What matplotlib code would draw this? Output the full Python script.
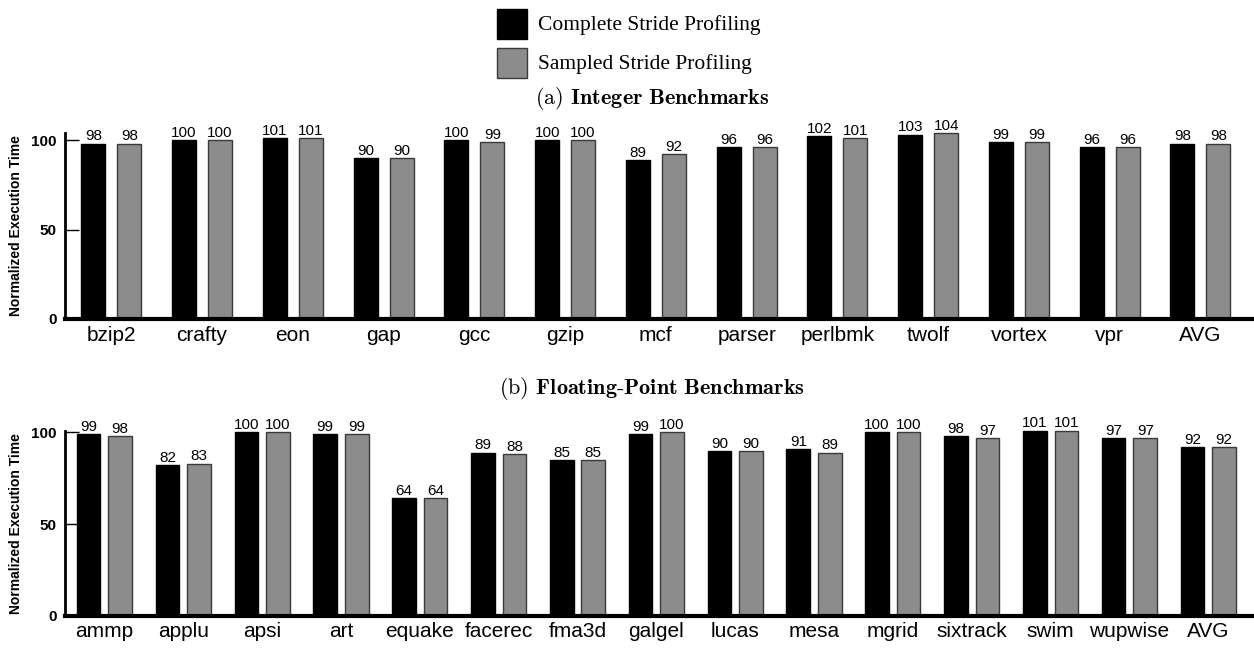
import numpy as np
import matplotlib
matplotlib.use('Agg')
import matplotlib.pyplot as plt
from matplotlib.patches import Rectangle

plt.rcParams['font.family'] = 'Liberation Sans'
plt.rcParams['mathtext.fontset'] = 'cm'

int_names = ['bzip2', 'crafty', 'eon', 'gap', 'gcc', 'gzip', 'mcf', 'parser',
             'perlbmk', 'twolf', 'vortex', 'vpr', 'AVG']
int_complete = [98, 100, 101, 90, 100, 100, 89, 96, 102, 103, 99, 96, 98]
int_sampled = [98, 100, 101, 90, 99, 100, 92, 96, 101, 104, 99, 96, 98]

fp_names = ['ammp', 'applu', 'apsi', 'art', 'equake', 'facerec', 'fma3d', 'galgel',
            'lucas', 'mesa', 'mgrid', 'sixtrack', 'swim', 'wupwise', 'AVG']
fp_complete = [99, 82, 100, 99, 64, 89, 85, 99, 90, 91, 100, 98, 101, 97, 92]
fp_sampled = [98, 83, 100, 99, 64, 88, 85, 100, 90, 89, 100, 97, 101, 97, 92]

series_labels = ['Complete Stride Profiling', 'Sampled Stride Profiling']
BLACK = '#000000'
GRAY = '#8c8c8c'

W, H = 1254, 650
fig = plt.figure(figsize=(W / 100, H / 100), dpi=100)


def px_axes(left, y0, y100, ytop_val, right=W):
    # y0/y100 are pixel rows of value 0 and 100
    per = (y0 - y100) / 100.0
    top_px = y0 - per * ytop_val
    return fig.add_axes([left / W, (H - y0) / H, (right - left) / W, (y0 - top_px) / H])


def draw_panel(ax, names, a, b, width, off, xlim, ytop):
    x = np.arange(len(names))
    b1 = ax.bar(x - off, a, width, color=BLACK, edgecolor=BLACK, linewidth=1, clip_on=False)
    b2 = ax.bar(x + off, b, width, color=GRAY, edgecolor='#3a3a3a', linewidth=1, clip_on=False)
    for bars, vals in ((b1, a), (b2, b)):
        for r, v in zip(bars, vals):
            ax.text(r.get_x() + r.get_width() / 2, v + 0.1, str(v), ha='center', va='bottom',
                    fontsize=11)
    ax.set_xlim(*xlim)
    ax.set_ylim(0, ytop)
    ax.set_xticks(x)
    ax.set_xticklabels(names, fontsize=15)
    ax.tick_params(axis='x', length=0, pad=5)
    ax.set_yticks([0, 50, 100])
    ax.tick_params(axis='y', direction='in', length=10, width=1, pad=6, labelsize=11)
    for t in ax.get_yticklabels():
        t.set_fontweight('bold')
    ax.spines['top'].set_visible(False)
    ax.spines['right'].set_visible(False)
    ax.spines['left'].set_linewidth(2)
    ax.spines['bottom'].set_linewidth(3)
    ax.set_ylabel('Normalized Execution Time', fontsize=10, fontweight='bold')
    ax.yaxis.set_label_coords(-0.035, 0.5)


ax1 = px_axes(65, 319, 140, 104)
draw_panel(ax1, int_names, int_complete, int_sampled, 0.264, 0.198, (-0.51, 12.59), 104)

ax2 = px_axes(65, 615.5, 432.5, 101)
draw_panel(ax2, fp_names, fp_complete, fp_sampled, 0.30, 0.20, (-0.50, 14.58), 101)

# legend drawn by hand in figure pixels
for i, (col, ec) in enumerate(((BLACK, BLACK), (GRAY, '#3a3a3a'))):
    y_top = 9 + i * 39
    fig.patches.append(Rectangle((497 / W, (H - y_top - 30) / H), 30 / W, 30 / H,
                                 facecolor=col, edgecolor=ec, linewidth=1,
                                 transform=fig.transFigure))
    fig.text(538 / W, (H - y_top - 16) / H, series_labels[i], fontsize=15.5,
             family='Liberation Serif', va='center', ha='left')

fig.text(652 / W, (H - 98) / H, r'(a) $\mathbf{Integer\ Benchmarks}$', fontsize=16,
         ha='center', va='center', math_fontfamily='cm', family='cmr10')
fig.text(652 / W, (H - 388) / H, r'(b) $\mathbf{Floating}$-$\mathbf{Point\ Benchmarks}$',
         fontsize=16, ha='center', va='center', math_fontfamily='cm', family='cmr10')

fig.savefig('out.png', dpi=100)
